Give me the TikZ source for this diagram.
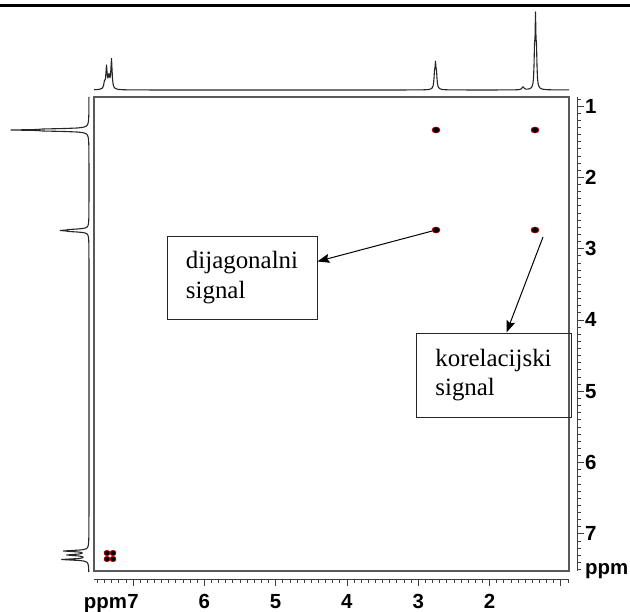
\documentclass[tikz,border=0pt]{standalone}
\usepackage{fontspec}
\setmainfont{Liberation Serif}
\newfontfamily\axfont{Liberation Sans}
\usetikzlibrary{arrows.meta,shapes.geometric}

\begin{document}
\begin{tikzpicture}[x=1bp,y=-1bp,
    declare function={lor(\dd,\ww)=1/(1+pow(min(abs(\dd)/\ww,100),2));},
    spec/.style={black!85, line width=1.1bp, line join=round},
    xpk/.style={ellipse, fill=black, draw=red!80!black, line width=0.6bp,
      minimum width=8bp, minimum height=6bp, inner sep=0pt},
    lbl/.style={draw=black!85, line width=1bp, align=left, inner sep=0pt,
      font=\fontsize{25}{30}\selectfont},
    arr/.style={-{Stealth[length=12bp,width=9bp,inset=2bp]}, line width=1bp},
    tck/.style={black!75, line width=0.7bp},
    ax/.style={font=\axfont\bfseries\fontsize{20.5}{22}\selectfont, inner sep=0pt}]
    \useasboundingbox (0,0) rectangle (630,612);

    \draw [line width=2.5bp] (0,5.7) -- (630,5.7) ;

    % projections
    \draw [spec] plot [domain=94:569, samples=951] (\x,
      {90 - 6*lor(\x-104.5,0.8) - 21*lor(\x-106.5,0.7) - 10*lor(\x-109,0.8)
       - 29*lor(\x-111.5,0.7) - 3*lor(\x-108.5,2.5)
       - 12*lor(\x-434.5,0.6) - 21*lor(\x-435.5,0.6) - 12*lor(\x-436.5,0.6)
       - 1.5*lor(\x-435.5,2.5) - 3*lor(\x-523,1.2)
       - 30*lor(\x-534.5,0.5) - 64*lor(\x-535.5,0.5) - 30*lor(\x-536.5,0.5)
       - 2*lor(\x-535.5,2.5)}) ;
    \draw [spec] plot [domain=97:572, samples=951] (
      {89 - 30*lor(\x-129,0.5) - 64*lor(\x-130,0.5) - 30*lor(\x-131,0.5)
       - 2*lor(\x-130,2.5)
       - 12*lor(\x-229.5,0.6) - 21*lor(\x-230.5,0.6) - 12*lor(\x-231.5,0.6)
       - 1.5*lor(\x-230.5,2.5)
       - 24*lor(\x-551,0.7) - 18*lor(\x-555,0.7) - 26*lor(\x-559.5,0.7)
       - 3*lor(\x-555,2.5)}, \x) ;

    \draw [black!65, line width=1.3bp] (94,97) rectangle (569,571) ;

    % axes
    \draw [tck] (94,579) -- (569,579) ;
    \draw [tck] (577,97) -- (577,571) ;
    \foreach \t in {9,...,75} {
      \draw [tck] ({632.1-7.13*\t},579) -- ++(0,3.5) ;
      \draw [tck] (577,{34.7+7.13*\t}) -- ++(3.5,0) ;
    }
    \foreach \t in {1,...,7} {
      \draw [tck] ({632.1-71.3*\t},579) -- ++(0,7) ;
      \draw [tck] (577,{34.7+71.3*\t}) -- ++(7,0) ;
      \node [ax, anchor=west] (r\t) at (585,{34.7+71.3*\t}) {\t} ;
    }
    \foreach \t in {2,...,7}
      \node [ax, anchor=base] (b\t) at ({632.1-71.3*\t},608.7) {\t} ;
    \node [ax, anchor=base east] (bppm) at (b7.base west) {ppm} ;
    \node [ax, anchor=base west] (rppm) at (585,574) {ppm} ;

    % cross peaks
    \node [xpk] (c11) at (535,130) {} ;
    \node [xpk] (c21) at (436,130) {} ;
    \node [xpk] (c22) at (436,230) {} ;
    \node [xpk] (c12) at (535,230) {} ;
    \foreach \i in {107,113} \foreach \j in {553,559}
      \node [xpk, minimum width=6bp, minimum height=5.5bp] (ar\i-\j) at (\i,\j) {} ;

    % labels
    \node [lbl, minimum width=150bp, minimum height=83bp] (diag) at (242,277.5)
      {dijagonalni\\signal} ;
    \node [lbl, minimum width=155bp, minimum height=84bp] (korel) at (493.5,375)
      {korelacijski\\signal} ;
    \coordinate (kstart) at (543,237) ;
    \draw [arr] (c22) -- (diag.12) ;
    \draw [arr] (kstart) -- (korel.73) ;
\end{tikzpicture}
\end{document}
